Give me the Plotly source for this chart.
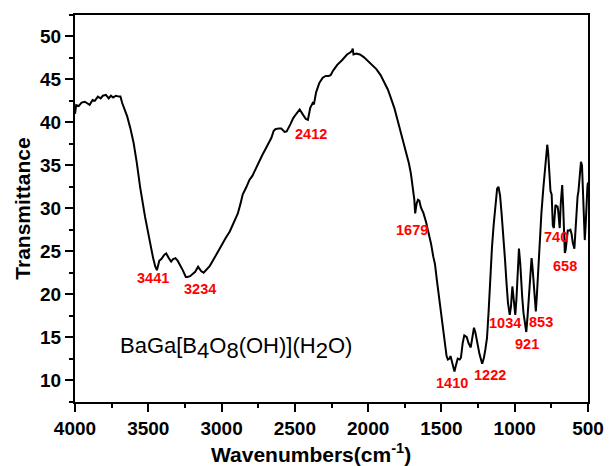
import plotly.graph_objects as go

wavenumber = [4000, 3992, 3975, 3955, 3933, 3915, 3900, 3880, 3865, 3844, 3825, 3810, 3789, 3770, 3755, 3740, 3720, 3700, 3690,
              3678, 3660, 3644, 3622, 3600, 3578, 3556, 3522, 3489, 3467, 3452, 3441, 3425, 3411, 3390, 3378, 3360, 3344, 3330,
              3315, 3300, 3289, 3265, 3244, 3234, 3215, 3200, 3180, 3160, 3140, 3122, 3100, 3080, 3056, 3030, 3000, 2970, 2944,
              2920, 2889, 2870, 2856, 2830, 2810, 2789, 2760, 2740, 2722, 2700, 2678, 2660, 2645, 2633, 2610, 2593, 2570, 2556,
              2530, 2511, 2490, 2467, 2445, 2425, 2411, 2395, 2378, 2370, 2355, 2333, 2310, 2289, 2270, 2256, 2240, 2211, 2180,
              2160, 2144, 2125, 2111, 2105, 2100, 2080, 2056, 2030, 2000, 1970, 1944, 1915, 1889, 1865, 1844, 1820, 1800, 1778,
              1756, 1740, 1722, 1708, 1695, 1685, 1679, 1670, 1660, 1651, 1640, 1622, 1605, 1589, 1570, 1556, 1544, 1530, 1515,
              1500, 1490, 1478, 1465, 1456, 1445, 1438, 1425, 1411, 1400, 1389, 1375, 1367, 1355, 1344, 1327, 1315, 1300, 1290,
              1278, 1268, 1256, 1240, 1222, 1210, 1200, 1189, 1178, 1167, 1155, 1144, 1130, 1120, 1111, 1100, 1090, 1078, 1066,
              1056, 1046, 1034, 1026, 1016, 1006, 996, 988, 980, 971, 962, 955, 949, 940, 930, 921, 912, 900, 890, 885, 878, 870,
              862, 856, 850, 840, 830, 818, 805, 795, 785, 778, 772, 765, 760, 756, 748, 744, 740, 733, 727, 722, 715, 708, 704,
              698, 693, 686, 680, 676, 670, 663, 658, 652, 645, 638, 630, 620, 612, 604, 593, 585, 578, 571, 565, 557, 548, 541,
              534, 528, 522, 516, 510, 504, 500]
transmittance = [41.0, 42.0, 41.9, 42.3, 42.4, 42.2, 42.05, 42.6, 42.5, 43.0, 42.8, 43.1, 43.2, 42.8, 43.1, 42.9, 43.1, 43.0, 43.0,
                 42.25, 41.5, 40.7, 39.3, 37.6, 35.25, 32.5, 29.0, 25.9, 24.2, 23.2, 22.8, 23.9, 24.1, 24.6, 24.75, 24.2, 23.8, 24.1,
                 24.2, 23.9, 23.6, 22.8, 22.0, 22.0, 22.1, 22.3, 22.6, 23.2, 22.7, 22.5, 22.9, 23.3, 24.0, 24.8, 25.8, 26.6, 27.3,
                 28.2, 29.4, 30.6, 31.6, 32.5, 33.3, 33.8, 34.9, 35.6, 36.2, 36.9, 37.6, 38.2, 39.0, 39.2, 39.3, 39.3, 38.9, 38.95,
                 39.8, 40.5, 41.0, 41.5, 40.9, 40.4, 40.3, 41.7, 42.25, 42.1, 43.5, 44.6, 45.2, 45.4, 45.4, 45.5, 46.0, 46.7, 47.2,
                 47.6, 47.9, 48.1, 48.3, 48.6, 47.9, 48.0, 47.9, 47.6, 47.1, 46.6, 46.2, 45.5, 44.6, 43.8, 42.8, 41.6, 40.3, 38.9,
                 37.6, 36.5, 35.25, 34.0, 32.5, 31.0, 29.4, 30.5, 31.0, 30.9, 30.1, 29.4, 28.4, 27.3, 25.8, 24.4, 23.5, 21.5, 19.5,
                 17.4, 15.8, 14.1, 12.8, 12.4, 12.5, 12.8, 11.9, 11.0, 11.8, 12.5, 12.4, 12.6, 14.3, 15.2, 15.0, 14.3, 13.8, 14.8,
                 16.1, 15.5, 14.3, 13.0, 11.9, 12.6, 13.6, 14.9, 18.0, 22.0, 25.5, 28.0, 31.0, 32.3, 32.5, 31.5, 29.5, 27.0, 24.0,
                 21.3, 19.0, 17.6, 18.5, 20.9, 19.0, 17.6, 19.5, 23.0, 25.3, 23.5, 21.0, 19.7, 17.8, 16.3, 15.6, 17.5, 21.0, 23.8,
                 24.2, 23.0, 21.0, 18.7, 18.0, 19.5, 23.0, 26.5, 29.4, 32.3, 34.5, 36.8, 37.4, 36.5, 34.0, 32.5, 32.0, 31.6, 30.0,
                 28.0, 27.7, 29.5, 30.4, 30.2, 30.2, 29.8, 28.3, 27.7, 30.5, 32.6, 32.7, 30.5, 27.0, 24.8, 25.2, 26.8, 27.4, 27.4,
                 27.5, 27.0, 26.0, 25.3, 28.0, 30.5, 31.4, 32.0, 34.0, 35.4, 35.0, 31.5, 28.0, 26.3, 28.0, 31.0, 32.5, 33.0]

peak_labels = ["3441", "3234", "2412", "1679", "1410", "1222", "1034", "853", "921", "740", "658"]
peak_label_x = [3467, 3144, 2389, 1704, 1429, 1167, 1067, 822, 918, 717, 656]
peak_label_y = [21.9, 20.6, 38.6, 27.5, 9.7, 10.6, 16.7, 16.8, 14.2, 26.7, 23.3]

x_ticks = [4000, 3500, 3000, 2500, 2000, 1500, 1000, 500]
y_ticks = [10, 15, 20, 25, 30, 35, 40, 45, 50]

FONT = "Liberation Sans, Arial, sans-serif"

fig = go.Figure()
fig.add_trace(go.Scatter(x=wavenumber, y=transmittance, mode="lines",
                         line=dict(color="black", width=2), showlegend=False))

for t, lx, ly in zip(peak_labels, peak_label_x, peak_label_y):
    fig.add_annotation(x=lx, y=ly, text=t, showarrow=False,
                       font=dict(family=FONT, size=14.5, color="#FF0000", weight="bold"))

sub = "<sub><span style='font-size:22px'>{}</span></sub>"
fig.add_annotation(x=2902, y=13.7, showarrow=False,
                   text="BaGa[B" + sub.format("4") + "O" + sub.format("8") + "(OH)](H" + sub.format("2") + "O)",
                   font=dict(family=FONT, size=22, color="black"))

fig.add_annotation(xref="paper", yref="paper", x=0.46, y=-0.093, yanchor="top", showarrow=False,
                   text="Wavenumbers(cm<sup>-1</sup>)",
                   font=dict(family=FONT, size=21, color="black", weight="bold"))
fig.add_annotation(xref="paper", yref="paper", x=-0.103, y=0.5, xanchor="center", yanchor="middle",
                   textangle=-90, showarrow=False,
                   text="Transmittance",
                   font=dict(family=FONT, size=21, color="black", weight="bold"))

axis_common = dict(showline=True, linecolor="black", linewidth=2, mirror=True, showgrid=False, zeroline=False,
                   ticks="outside", ticklen=8, tickwidth=2, tickcolor="black",
                   tickfont=dict(family=FONT, size=19, color="black", weight="bold"))

fig.update_xaxes(range=[4000, 500], tickvals=x_ticks, ticktext=[str(v) for v in x_ticks],
                 minor=dict(ticks="outside", ticklen=4, tickwidth=2, tickcolor="black", dtick=250, tick0=500),
                 **axis_common)
fig.update_yaxes(range=[7.45, 52.5], tickvals=y_ticks, ticktext=[str(v) for v in y_ticks],
                 minor=dict(ticks="outside", ticklen=4, tickwidth=2, tickcolor="black", dtick=2.5, tick0=0),
                 **axis_common)

fig.update_layout(width=616, height=466, margin=dict(l=75, r=16, t=15, b=64),
                  plot_bgcolor="white", paper_bgcolor="white", font=dict(family=FONT))

fig.write_html("out.html")
